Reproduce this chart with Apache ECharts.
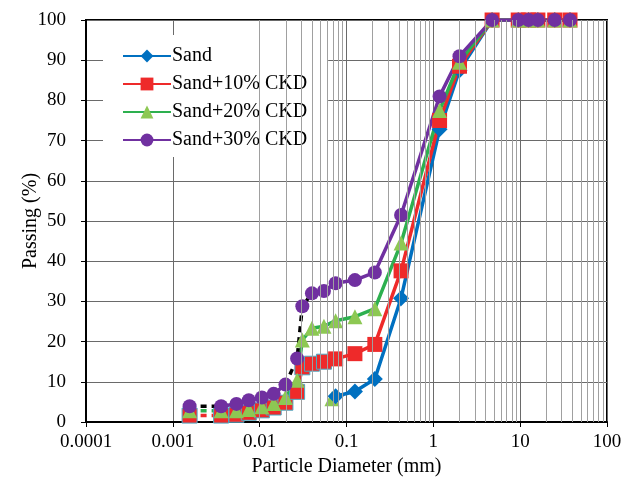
<!DOCTYPE html>
<html><head><meta charset="utf-8">
<script src="https://cdn.jsdelivr.net/npm/echarts@6/dist/echarts.min.js"></script>
<style>html,body{margin:0;padding:0;background:#fff}#c{width:634px;height:483px}</style>
</head><body><div id="c"></div>
<script>
// ---- data ----
const xTickLabels = ['0.0001', '0.001', '0.01', '0.1', '1', '10', '100'];
const seriesNames = ['Sand', 'Sand+10% CKD', 'Sand+20% CKD', 'Sand+30% CKD'];
// hydrometer particle sizes (mm)
const hydroSizes = [0.00156, 0.0036, 0.0054, 0.0075, 0.0106, 0.0145, 0.0198, 0.027, 0.031, 0.040, 0.055];
// sieve sizes (mm)
const sieveSizes = [0.075, 0.125, 0.212, 0.425, 1.18, 2.0, 4.75, 9.5, 12.5, 16, 25, 37.5];

const sandSieve  = [6.4, 7.6, 10.7, 30.8, 72.8, 87.5, 100, 100, 100, 100, 100, 100];

const ckd10Hydro = [1.6, 1.6, 1.8, 2.3, 2.9, 3.6, 4.8, 7.5, 13.6, 14.5, 15.0];
const ckd10Sieve = [15.7, 17.0, 19.3, 37.6, 75.0, 88.5, 100, 100, 100, 100, 100, 100];

const ckd20Hydro = [2.8, 2.8, 2.8, 3.1, 3.8, 4.6, 6.1, 10.4, 20.4, 23.3, 23.8];
const ckd20Sieve = [25.2, 26.2, 28.2, 44.5, 77.5, 89.5, 100, 100, 100, 100, 100, 100];

const ckd30Hydro = [3.9, 3.9, 4.5, 5.4, 6.1, 7.0, 9.3, 15.8, 28.8, 32.0, 32.6];
const ckd30Sieve = [34.5, 35.3, 37.2, 51.5, 81.0, 91.0, 100, 100, 100, 100, 100, 100];

// stray green marker near 0.075 mm
const strayGreen = [[0.068, 5.8]];

// ---- helpers ----
const zip = (xs, ys) => xs.map((x, i) => [x, ys[i]]);
const BRK = '-';
function withBreaks(pts, breakAfter) {
  const out = [];
  pts.forEach((p, i) => { out.push(p); if (breakAfter.includes(i)) out.push(BRK); });
  return out;
}
function segments(pts, segs) {
  const out = [];
  segs.forEach((s, k) => {
    for (let i = s[0]; i <= s[1]; i++) out.push(pts[i]);
    if (k < segs.length - 1) out.push(BRK);
  });
  return out;
}

const sandPts = zip(sieveSizes, sandSieve);
const p10 = zip(hydroSizes, ckd10Hydro).concat(zip(sieveSizes, ckd10Sieve));
const p20 = zip(hydroSizes, ckd20Hydro).concat(zip(sieveSizes, ckd20Sieve));
const p30 = zip(hydroSizes, ckd30Hydro).concat(zip(sieveSizes, ckd30Sieve));

const nH = hydroSizes.length;
const p10Items = p10.map((p, i) => i < nH ? {value: p, itemStyle: {borderColor: '#4BACC6', borderWidth: 1}} : p);

const C = {blue: '#0070C0', red: '#EE2A2A', greenLine: '#2DB04F', greenMark: '#8DC853', purple: '#7030A0'};
const FONT = 'Liberation Serif';
const LW = 3.5;

const minorGrid = [];
for (let d = -4; d <= 1; d++) for (let m = 2; m <= 9; m++) minorGrid.push({xAxis: m * Math.pow(10, d)});

const chart = echarts.init(document.getElementById('c'), null, {renderer: 'canvas'});
chart.setOption({
  animation: false,
  backgroundColor: '#fff',
  grid: {left: 86, right: 27, top: 20, bottom: 61, show: true, borderColor: '#000', borderWidth: 2, backgroundColor: 'transparent'},
  legend: {
    left: 103, top: 35, orient: 'vertical',
    padding: [11, 21, 7, 19],
    itemGap: 8, itemWidth: 48, itemHeight: 16,
    backgroundColor: '#fff',
    textStyle: {fontFamily: FONT, fontSize: 20, color: '#000', padding: [0, 0, 0, -4]},
    data: seriesNames
  },
  xAxis: {
    type: 'log', logBase: 10, min: 0.0001, max: 100,
    name: 'Particle Diameter (mm)', nameLocation: 'middle', nameGap: 34,
    nameTextStyle: {fontFamily: FONT, fontSize: 20, color: '#000'},
    axisLine: {lineStyle: {color: '#000', width: 2}},
    axisTick: {show: true, length: 5, lineStyle: {color: '#000'}},
    axisLabel: {fontFamily: FONT, fontSize: 19, color: '#000', margin: 11,
      formatter: v => xTickLabels[Math.round(Math.log10(v)) + 4]},
    splitLine: {show: true, lineStyle: {color: '#6a6a6a', width: 1}}
  },
  yAxis: {
    type: 'value', min: 0, max: 100, interval: 10,
    name: 'Passing (%)', nameLocation: 'middle', nameGap: 45, nameMoveOverlap: false,
    nameTextStyle: {fontFamily: FONT, fontSize: 20, color: '#000'},
    axisLine: {show: true, lineStyle: {color: '#000', width: 2}},
    axisTick: {show: true, length: 5, lineStyle: {color: '#000'}},
    axisLabel: {fontFamily: FONT, fontSize: 19, color: '#000', margin: 20},
    splitLine: {show: true, lineStyle: {color: '#6a6a6a', width: 1}}
  },
  series: [
    {type: 'line', name: '_grid', data: [], silent: true,
     markLine: {silent: true, symbol: 'none', label: {show: false}, animation: false,
       lineStyle: {color: '#a0a0a0', width: 1, type: 'solid'}, emphasis: {disabled: true}, data: minorGrid}},
    {type: 'line', name: '_stray', data: strayGreen, symbol: 'triangle', symbolSize: 15,
     itemStyle: {color: C.greenMark}, lineStyle: {opacity: 0}},
    {type: 'line', name: 'Sand', data: sandPts, symbol: 'diamond', symbolSize: 16, showAllSymbol: true,
     itemStyle: {color: C.blue}, lineStyle: {color: C.blue, width: LW}},
    {type: 'line', name: '_d10', data: segments(p10, [[0, 1]]), symbol: 'none',
     lineStyle: {color: C.red, width: LW, type: [6, 5]}},
    {type: 'line', name: 'Sand+10% CKD', data: withBreaks(p10Items, [0]), symbol: 'rect', symbolSize: 15, showAllSymbol: true,
     itemStyle: {color: C.red}, lineStyle: {color: C.red, width: LW}},
    {type: 'line', name: '_d20', data: segments(p20, [[0, 1]]), symbol: 'none',
     lineStyle: {color: C.greenLine, width: LW, type: [6, 5]}},
    {type: 'line', name: 'Sand+20% CKD', data: withBreaks(p20, [0]), symbol: 'triangle', symbolSize: 15, showAllSymbol: true,
     itemStyle: {color: C.greenMark}, lineStyle: {color: C.greenLine, width: LW}},
    {type: 'line', name: '_d30', data: segments(p30, [[0, 1], [6, 9]]), symbol: 'none',
     lineStyle: {color: '#000', width: LW, type: [6, 5]}},
    {type: 'line', name: 'Sand+30% CKD', data: withBreaks(p30, [0, 6, 7, 8]), symbol: 'circle', symbolSize: 14, showAllSymbol: true,
     itemStyle: {color: C.purple}, lineStyle: {color: C.purple, width: LW}}
  ]
});
</script>
</body></html>
